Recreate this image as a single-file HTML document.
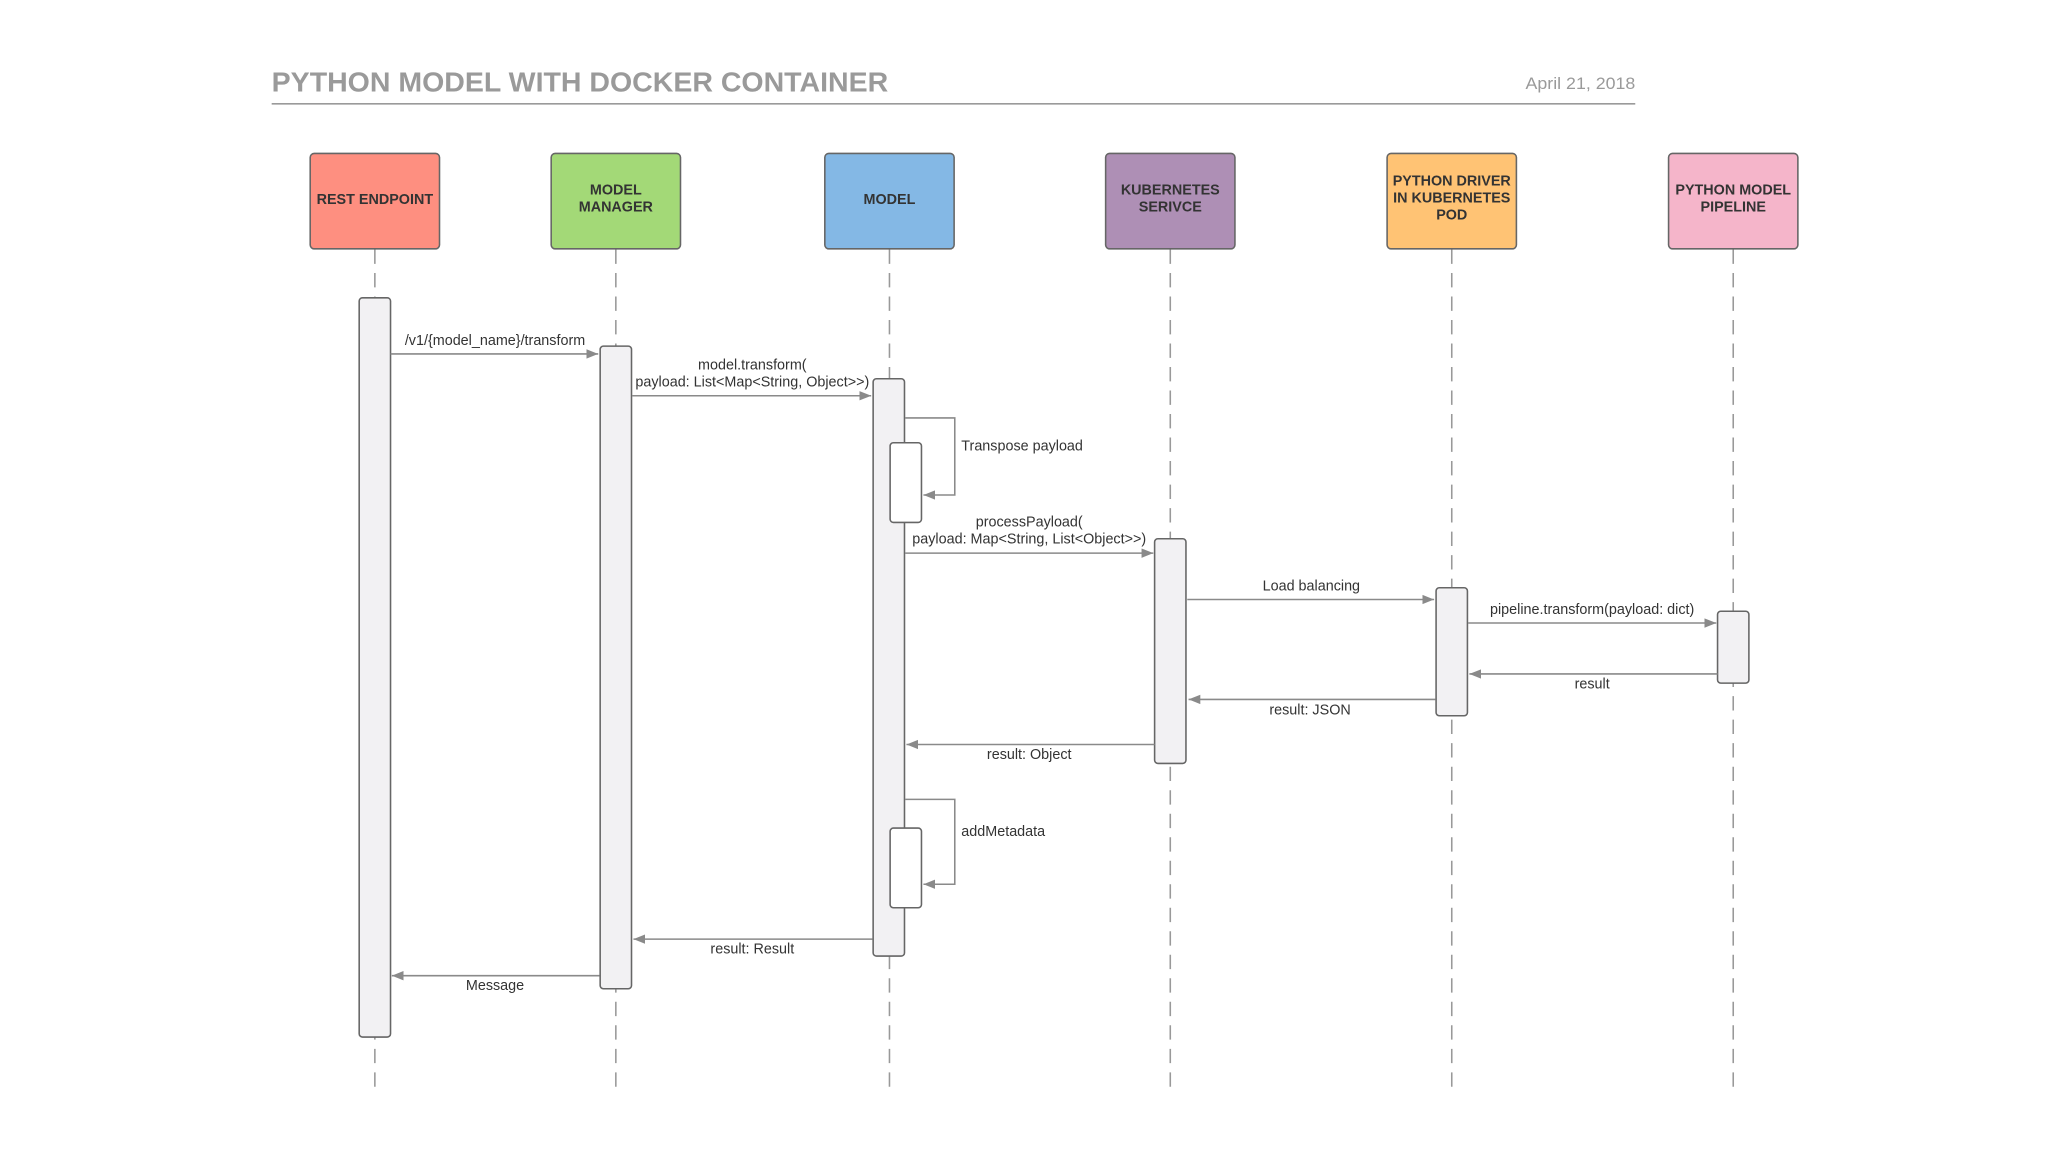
<!DOCTYPE html>
<html><head><meta charset="utf-8"><style>
html,body{margin:0;padding:0;background:#fff;}
svg{display:block;}
text{font-family:"Liberation Sans",sans-serif;}
</style></head><body>
<svg width="2048" height="1152" viewBox="0 0 1568 882" xmlns="http://www.w3.org/2000/svg">
<defs>
<marker id="ah" viewBox="0 0 10 10" refX="10" refY="5" markerWidth="9" markerHeight="9" markerUnits="userSpaceOnUse" orient="auto"><path d="M0,1 L10,5 L0,9 z" fill="#8a8a8a"/></marker>
</defs>
<rect width="1568" height="882" fill="#fff"/>
<text x="208" y="70" font-size="21" font-weight="bold" fill="#9a9a9a" textLength="472" lengthAdjust="spacingAndGlyphs">PYTHON MODEL WITH DOCKER CONTAINER</text>
<text x="1252" y="68" font-size="13" fill="#9a9a9a" text-anchor="end" textLength="84" lengthAdjust="spacingAndGlyphs">April 21, 2018</text>
<line x1="208" y1="79.5" x2="1252" y2="79.5" stroke="#9a9a9a" stroke-width="1.3"/>

<g stroke="#999" stroke-width="1.2" stroke-dasharray="11,7">
<line x1="287" y1="191" x2="287" y2="832"/>
<line x1="471.5" y1="191" x2="471.5" y2="832"/>
<line x1="681" y1="191" x2="681" y2="832"/>
<line x1="896" y1="191" x2="896" y2="832"/>
<line x1="1111.5" y1="191" x2="1111.5" y2="832"/>
<line x1="1327" y1="191" x2="1327" y2="832"/>
</g>

<g stroke="#666" stroke-width="1.2">
<rect x="237.5" y="117.5" width="99" height="73" rx="3" fill="#fe8f80"/>
<rect x="422" y="117.5" width="99" height="73" rx="3" fill="#a3d977"/>
<rect x="631.5" y="117.5" width="99" height="73" rx="3" fill="#84b8e5"/>
<rect x="846.5" y="117.5" width="99" height="73" rx="3" fill="#ae8fb5"/>
<rect x="1062" y="117.5" width="99" height="73" rx="3" fill="#ffc374"/>
<rect x="1277.5" y="117.5" width="99" height="73" rx="3" fill="#f5b5ca"/>
</g>
<g font-size="11" font-weight="bold" fill="#333" text-anchor="middle">
<text x="287" y="156">REST ENDPOINT</text>
<text x="471.5" y="149">MODEL</text><text x="471.5" y="162">MANAGER</text>
<text x="681" y="156">MODEL</text>
<text x="896" y="149">KUBERNETES</text><text x="896" y="162">SERIVCE</text>
<text x="1111.5" y="142">PYTHON DRIVER</text><text x="1111.5" y="155">IN KUBERNETES</text><text x="1111.5" y="168">POD</text>
<text x="1327" y="149">PYTHON MODEL</text><text x="1327" y="162">PIPELINE</text>
</g>

<g stroke="#666" stroke-width="1.2" fill="#f2f1f3">
<rect x="275" y="228" width="24" height="566" rx="2.5"/>
<rect x="459.5" y="265" width="24" height="492" rx="2.5"/>
<rect x="668.5" y="290" width="24" height="442" rx="2.5"/>
<rect x="681.5" y="339" width="24" height="61" rx="2.5" fill="#fff"/>
<rect x="681.5" y="634" width="24" height="61" rx="2.5" fill="#fff"/>
<rect x="884" y="412.5" width="24" height="172" rx="2.5"/>
<rect x="1099.5" y="450" width="24" height="98" rx="2.5"/>
<rect x="1315" y="468" width="24" height="55" rx="2.5"/>
</g>

<g stroke="#8a8a8a" stroke-width="1.2" fill="none" marker-end="url(#ah)">
<line x1="299" y1="271" x2="458" y2="271"/>
<line x1="484" y1="303" x2="667" y2="303"/>
<path d="M693,320 H731 V379 H707"/>
<line x1="693" y1="423.5" x2="883" y2="423.5"/>
<line x1="909" y1="459" x2="1098" y2="459"/>
<line x1="1124" y1="477" x2="1314" y2="477"/>
<line x1="1315" y1="516" x2="1125" y2="516"/>
<line x1="1099" y1="535.5" x2="910" y2="535.5"/>
<line x1="884" y1="570" x2="694" y2="570"/>
<path d="M693,612 H731 V677 H707"/>
<line x1="668" y1="719" x2="485" y2="719"/>
<line x1="459" y1="747" x2="300" y2="747"/>
</g>

<g font-size="11" fill="#333" text-anchor="middle">
<text x="379" y="264">/v1/{model_name}/transform</text>
<text x="576" y="283">model.transform(</text>
<text x="576" y="296">payload: List&lt;Map&lt;String, Object&gt;&gt;)</text>
<text x="788" y="403">processPayload(</text>
<text x="788" y="416">payload: Map&lt;String, List&lt;Object&gt;&gt;)</text>
<text x="1004" y="452">Load balancing</text>
<text x="1219" y="470">pipeline.transform(payload: dict)</text>
<text x="1219" y="527">result</text>
<text x="1003" y="547">result: JSON</text>
<text x="788" y="581">result: Object</text>
<text x="576" y="730">result: Result</text>
<text x="379" y="758">Message</text>
</g>
<g font-size="11" fill="#333">
<text x="736" y="345">Transpose payload</text>
<text x="736" y="640">addMetadata</text>
</g>
</svg>
</body></html>
